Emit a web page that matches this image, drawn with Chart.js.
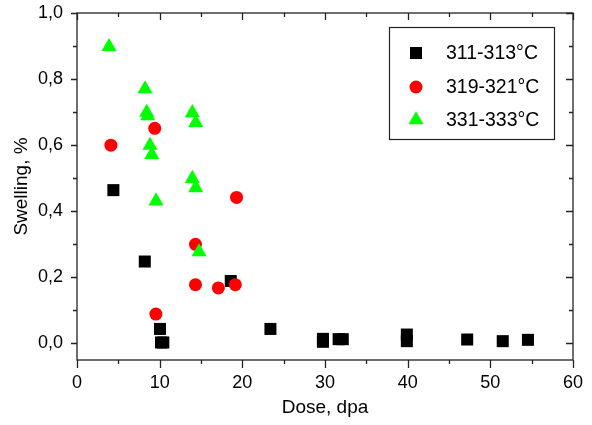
<!DOCTYPE html>
<html>
<head>
<meta charset="utf-8">
<script src="https://cdn.jsdelivr.net/npm/chart.js@4/dist/chart.umd.min.js"></script>
<style>
  html, body { margin: 0; padding: 0; background: #fff; }
  #wrap { width: 592px; height: 425px; }
</style>
</head>
<body>
<div id="wrap"><canvas id="c" width="592" height="425"></canvas></div>
<script>
// ---- data ----
const seriesLabels = ['311-313\u00B0C', '319-321\u00B0C', '331-333\u00B0C'];

const dose311  = [4.4, 8.2, 10.04, 10.16, 10.44, 18.6, 23.4, 29.75, 29.75, 31.65, 32.15, 39.9, 39.9, 47.2, 51.5, 54.55];
const swell311 = [0.464, 0.248, 0.044, 0.003, 0.003, 0.189, 0.044, 0.014, 0.005, 0.013, 0.013, 0.027, 0.007, 0.012, 0.007, 0.011];

const dose319  = [4.1, 9.4, 19.3, 14.33, 14.33, 17.1, 19.15, 9.54];
const swell319 = [0.60, 0.651, 0.442, 0.30, 0.178, 0.168, 0.178, 0.089];

const dose331  = [3.87, 8.23, 8.43, 8.55, 13.95, 14.36, 8.83, 9.04, 13.95, 14.36, 9.56, 14.76];
const swell331 = [0.898, 0.770, 0.699, 0.689, 0.698, 0.668, 0.599, 0.571, 0.499, 0.471, 0.431, 0.277];

const xTickValues = [0, 10, 20, 30, 40, 50, 60];
const xMinorValues = [5, 15, 25, 35, 45, 55];
const yTickValues = [0, 0.2, 0.4, 0.6, 0.8, 1.0];
const yMinorValues = [0.1, 0.3, 0.5, 0.7, 0.9];

const xTitle = 'Dose, dpa';
const yTitle = 'Swelling, %';

// ---- build ----
const toPts = (xs, ys) => xs.map((v, i) => ({ x: v, y: ys[i] }));
const FONT = "'Liberation Sans', Arial, sans-serif";

const frameTicks = {
  id: 'frameTicks',
  afterDraw(chart) {
    const { ctx, chartArea: a, scales: { x, y } } = chart;
    ctx.save();
    ctx.strokeStyle = '#222';
    ctx.lineWidth = 1.3;
    ctx.strokeRect(a.left, a.top, a.right - a.left, a.bottom - a.top);
    ctx.beginPath();
    const xt = (vals, outLen, inLen) => vals.forEach(v => {
      const px = Math.round(x.getPixelForValue(v)) + 0.5;
      ctx.moveTo(px, a.bottom); ctx.lineTo(px, a.bottom + outLen);
      ctx.moveTo(px, a.top); ctx.lineTo(px, a.top + inLen);
    });
    const yt = (vals, outLen, inLen) => vals.forEach(v => {
      const py = Math.round(y.getPixelForValue(v)) + 0.5;
      ctx.moveTo(a.left, py); ctx.lineTo(a.left - outLen, py);
      ctx.moveTo(a.right, py); ctx.lineTo(a.right - inLen, py);
    });
    xt(xTickValues, 8, 7);
    xt(xMinorValues, 4, 4);
    yt(yTickValues, 6, 7);
    yt(yMinorValues, 4, 4);
    ctx.stroke();
    ctx.restore();
  }
};

const boxLegend = {
  id: 'boxLegend',
  afterDraw(chart) {
    const { ctx } = chart;
    const bx = 389, by = 27, bw = 165, bh = 112;
    ctx.save();
    ctx.strokeStyle = '#222';
    ctx.lineWidth = 1.2;
    ctx.strokeRect(bx + 0.5, by + 0.5, bw, bh);
    const rows = [53, 87, 120];
    chart.data.datasets.forEach((ds, i) => {
      const cx = 416, cy = rows[i];
      ctx.fillStyle = ds.backgroundColor;
      ctx.beginPath();
      if (ds.pointStyle === 'rect') {
        ctx.rect(cx - 6, cy - 6, 12, 12);
      } else if (ds.pointStyle === 'circle') {
        ctx.arc(cx, cy, 6.5, 0, Math.PI * 2);
      } else {
        const r = ds.pointRadius;
        ctx.moveTo(cx, cy - r);
        ctx.lineTo(cx + 0.866 * r, cy + r / 2);
        ctx.lineTo(cx - 0.866 * r, cy + r / 2);
        ctx.closePath();
      }
      ctx.fill();
      ctx.fillStyle = '#000';
      ctx.font = '19.5px ' + FONT;
      ctx.textBaseline = 'middle';
      ctx.textAlign = 'left';
      ctx.fillText(ds.label, 446, cy + 1);
    });
    ctx.restore();
  }
};

new Chart(document.getElementById('c'), {
  type: 'scatter',
  data: {
    datasets: [
      { label: seriesLabels[0], data: toPts(dose311, swell311), pointStyle: 'rect',
        pointRadius: 8.5, backgroundColor: '#000000', borderWidth: 0, order: 3 },
      { label: seriesLabels[1], data: toPts(dose319, swell319), pointStyle: 'circle',
        pointRadius: 6.5, backgroundColor: '#ff0000', borderWidth: 0, order: 2 },
      { label: seriesLabels[2], data: toPts(dose331, swell331), pointStyle: 'triangle',
        pointRadius: 8.7, backgroundColor: '#00ff00', borderWidth: 0, order: 1 }
    ]
  },
  options: {
    responsive: false,
    animation: false,
    devicePixelRatio: 1,
    layout: { padding: { left: 0, top: 13, right: 19, bottom: 0 } },
    plugins: { legend: { display: false }, tooltip: { enabled: false } },
    elements: { point: { hoverRadius: 0 } },
    scales: {
      x: {
        type: 'linear', min: 0, max: 60,
        afterBuildTicks: s => { s.ticks = xTickValues.map(v => ({ value: v })); },
        afterFit: s => { s.height = 65; s.paddingLeft = 0; s.paddingRight = 0; },
        grid: { display: false, drawTicks: false },
        border: { display: false },
        ticks: { color: '#000', font: { family: FONT, size: 18 }, padding: 12, maxRotation: 0,
                 callback: v => String(v) },
        title: { display: true, text: xTitle, color: '#000', font: { family: FONT, size: 19 },
                 padding: { top: 6, bottom: 6 } }
      },
      y: {
        type: 'linear', min: -0.05, max: 1.0,
        afterBuildTicks: s => { s.ticks = yTickValues.map(v => ({ value: v })); },
        afterFit: s => { s.width = 77; s.paddingTop = 0; s.paddingBottom = 0; },
        grid: { display: false, drawTicks: false },
        border: { display: false },
        ticks: { color: '#000', font: { family: FONT, size: 18 }, padding: 14,
                 callback: v => v.toFixed(1).replace('.', ',') },
        title: { display: true, text: yTitle, color: '#000', font: { family: FONT, size: 19 },
                 padding: { top: 10, bottom: 10 } }
      }
    }
  },
  plugins: [frameTicks, boxLegend]
});
</script>
</body>
</html>
